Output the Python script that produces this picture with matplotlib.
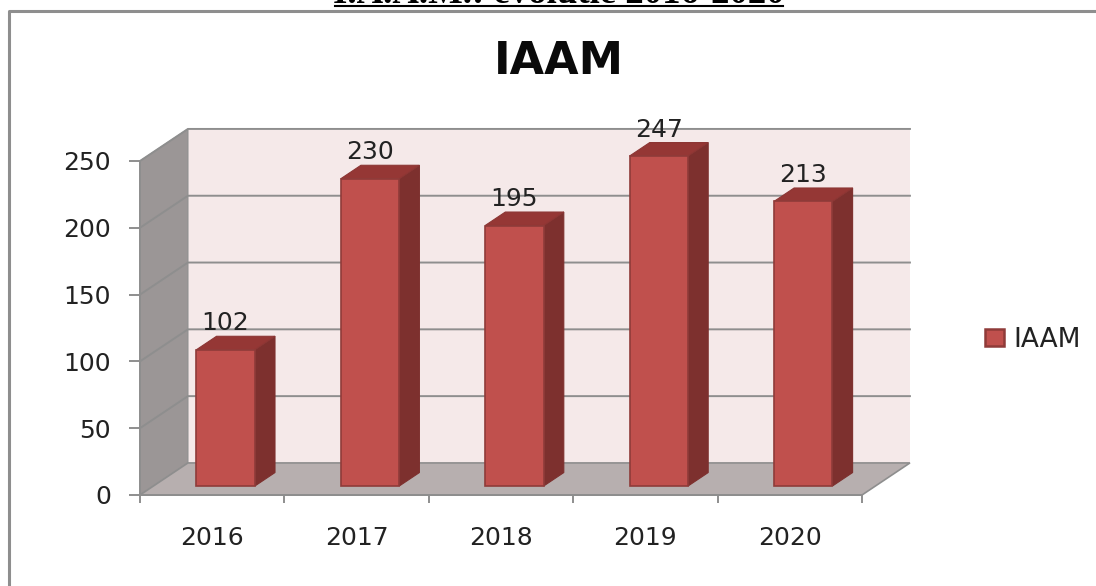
from matplotlib import pyplot as plt
from matplotlib.patches import Polygon, Patch
from matplotlib.lines import Line2D

years = ["2016", "2017", "2018", "2019", "2020"]
values = [102, 230, 195, 247, 213]
y_ticks = [0, 50, 100, 150, 200, 250]

W, H = 1096, 586
DEPTH_X = 0.332  # one full depth step, in category units
DEPTH_Y = 24.0   # same thing, in value units
GREY = "#8e8e8e"
TEXT = "#222222"


def deep(x, y, d):
    return (x + d * DEPTH_X, y + d * DEPTH_Y)


fig = plt.figure(figsize=(W / 100, H / 100), dpi=100)
ax = fig.add_axes([140 / W, 1 - 495 / H, 722 / W, 334 / H])
ax.set_xlim(0, len(years))
ax.set_ylim(0, 250)
ax.patch.set_visible(False)


def poly(points, color, edge="none", lw=0, z=1):
    ax.add_patch(Polygon(points, closed=True, facecolor=color, edgecolor=edge,
                         linewidth=lw, zorder=z, clip_on=False))


# back wall, side wall and floor
n = len(years)
poly([deep(0, 0, 1), deep(n, 0, 1), deep(n, 250, 1), deep(0, 250, 1)], "#f5e9e9")
poly([(0, 0), deep(0, 0, 1), deep(0, 250, 1), (0, 250)], "#9b9696", GREY, 0.8, 2)
poly([(0, 0), (n, 0), deep(n, 0, 1), deep(0, 0, 1)], "#b7afaf", GREY, 1.2, 2)

# gridlines run along the side wall and across the back
for t in y_ticks:
    xs, ys = zip((0, t), deep(0, t, 1), deep(n, t, 1))
    if t > 0:
        ax.plot(xs, ys, color=GREY, lw=1.4, zorder=3, clip_on=False)

# the bars
bar_w = 0.405
for i, (year, val) in enumerate(zip(years, values)):
    left = i + 0.5 - bar_w / 2
    right = i + 0.5 + bar_w / 2
    d0, d1 = 0.28, 0.70
    x0, y0 = deep(left, 0, d0)
    x1, _ = deep(right, 0, d0)
    y1 = y0 + val
    step_x = (d1 - d0) * DEPTH_X
    step_y = (d1 - d0) * DEPTH_Y
    poly([(x1, y0), (x1 + step_x, y0 + step_y), (x1 + step_x, y1 + step_y), (x1, y1)],
         "#7d302e", "#7d302e", 0.8, 4)
    poly([(x0, y1), (x1, y1), (x1 + step_x, y1 + step_y), (x0 + step_x, y1 + step_y)],
         "#953735", "#8c3634", 0.8, 4)
    poly([(x0, y0), (x1, y0), (x1, y1), (x0, y1)], "#c0504d", "#8f3b39", 1.2, 5)
    ax.annotate(str(val), ((x0 + x1) / 2, y1), xytext=(0, 19), textcoords="offset points",
                ha="center", va="center", fontsize=18, color=TEXT, zorder=6,
                annotation_clip=False)

# axes
for side in ["top", "right"]:
    ax.spines[side].set_visible(False)
for side in ["left", "bottom"]:
    ax.spines[side].set_color(GREY)
    ax.spines[side].set_linewidth(1.4)
    ax.spines[side].set_zorder(7)
ax.set_yticks(y_ticks)
ax.tick_params(axis="y", length=8, width=1.4, color=GREY, labelsize=18, labelcolor=TEXT, pad=13)
ax.set_xticks(range(n + 1))
ax.set_xticklabels([])
ax.set_xticks([i + 0.5 for i in range(n)], years, minor=True)
ax.tick_params(axis="x", which="major", length=6, width=1.4, color=GREY)
ax.tick_params(axis="x", which="minor", length=0, labelsize=18, labelcolor=TEXT, pad=22)

fig.text(559 / W, 1 - 62 / H, "IAAM", ha="center", va="center", fontsize=32,
         fontweight="bold", color="#0a0a0a")

ax.legend(handles=[Patch(facecolor="#c0504d", edgecolor="#8f3b39", linewidth=1.8, label="IAAM")],
          loc="center left", bbox_to_anchor=(985 / W, 1 - 340 / H), bbox_transform=fig.transFigure,
          frameon=False, fontsize=19, labelcolor=TEXT, handlelength=0.72, handleheight=0.62,
          handletextpad=0.35, borderpad=0, borderaxespad=0)

# chart border, runs off the right and bottom of the picture
fig.add_artist(Line2D([9 / W, 9 / W, 1], [0, 1 - 10.5 / H, 1 - 10.5 / H],
                      color=GREY, lw=2.2, transform=fig.transFigure))

# document heading cut off by the top of the picture
fig.text(559 / W, 1 - 3 / H, "I.A.A.M.: evolutie 2016-2020", ha="center", va="baseline",
         fontsize=26.5, fontweight="bold", family="Liberation Serif", color="black")
fig.add_artist(Line2D([335 / W, 783 / W], [1 - 6 / H, 1 - 6 / H], color="black", lw=1.5,
                      transform=fig.transFigure))

fig.savefig("out.png", dpi=100)
